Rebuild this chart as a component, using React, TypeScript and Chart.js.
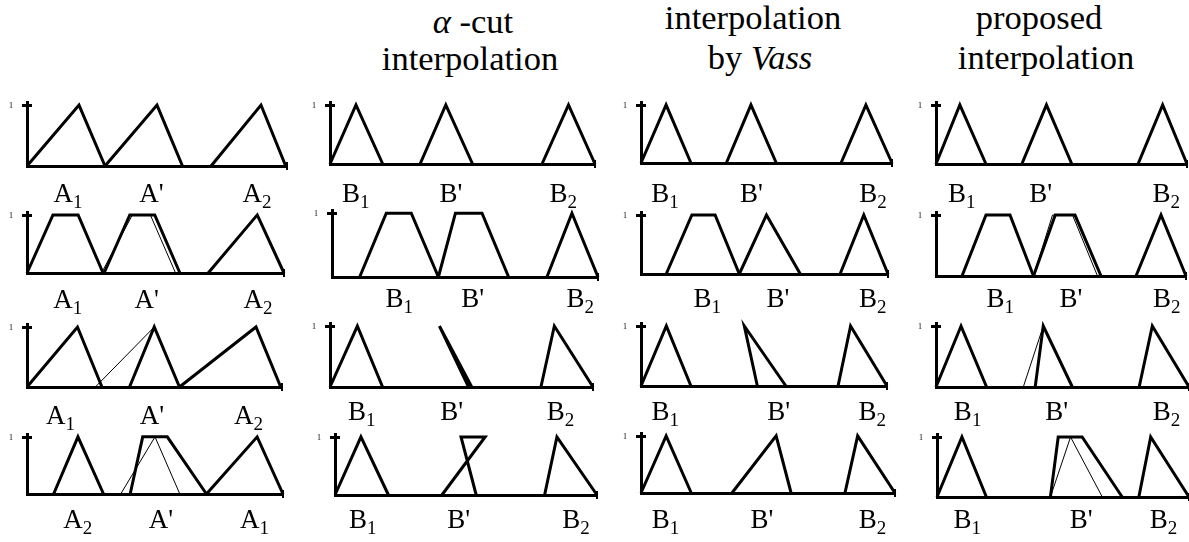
import React, { useEffect, useRef } from "react";
import { Chart, registerables } from "chart.js";

Chart.register(...registerables);

// ---------------- DATA ----------------
// Membership-function breakpoints on an x axis running 0..10 (membership 0..1).
// 2 values: rising edge (x at μ=0, x at μ=1); 3 values: triangle; 4 values: trapezoid.

// Column 1 — observations / antecedents A1, A', A2
const IN1 = [[0, 2.0, 3.0], [3.0, 5.0, 5.98], [7.08, 9.0, 9.95]];
const IN1_THIN: number[][] = [];
const IN1_LBL = [["A", "1", 1.58], ["A'", "", 4.79], ["A", "2", 8.85]];
const IN2 = [[0, 1.01, 1.99, 2.96], [3.0, 4.0, 4.97, 5.95], [7.05, 8.96, 10]];
const IN2_THIN = [[2.9, 4.1, 4.8, 5.78]];
const IN2_LBL = [["A", "1", 1.59], ["A'", "", 4.66], ["A", "2", 8.99]];
const IN3 = [[0, 1.98, 2.94], [4.02, 4.99, 5.98], [5.98, 8.98, 9.95]];
const IN3_THIN = [[2.68, 4.99]];
const IN3_LBL = [["A", "1", 1.31], ["A'", "", 4.9], ["A", "2", 8.69]];
const IN4 = [[1.04, 1.99, 2.99], [4.03, 4.52, 5.48, 7.01], [7.01, 8.99, 10]];
const IN4_THIN = [[3.66, 5.0, 5.97]];
const IN4_LBL = [["A", "2", 1.98], ["A'", "", 5.23], ["A", "1", 8.89]];

// Column 2 — α-cut interpolation
const AC1 = [[0, 0.98, 1.99], [3.4, 4.37, 5.38], [8.0, 9.0, 10]];
const AC1_LBL = [["B", "1", 0.97], ["B'", "", 4.56], ["B", "2", 8.8]];
const AC2 = [[1.04, 2.04, 2.98, 4.0], [4.0, 4.64, 5.64, 6.64], [8.08, 9.02, 10]];
const AC2_LBL = [["B", "1", 2.53], ["B'", "", 5.29], ["B", "2", 9.33]];
const AC3 = [[0, 1.04, 2.0], [5.27, 4.16, 5.39], [8.02, 8.53, 10]];
const AC3_LBL = [["B", "1", 1.21], ["B'", "", 4.63], ["B", "2", 8.76]];
const AC4 = [[0, 0.99, 2.04], [4.08, 5.73, 4.81, 5.39], [8.0, 8.47, 10]];
const AC4_LBL = [["B", "1", 1.06], ["B'", "", 4.72], ["B", "2", 9.2]];

// Column 3 — interpolation by Vass
const VS1 = [[0, 1.0, 1.99], [3.4, 4.38, 5.39], [7.97, 8.96, 10]];
const VS1_LBL = [["B", "1", 0.96], ["B'", "", 4.4], ["B", "2", 9.24]];
const VS2 = [[1.02, 2.06, 3.0, 3.98], [3.98, 5.08, 6.45], [8.06, 9.02, 10]];
const VS2_LBL = [["B", "1", 2.68], ["B'", "", 5.54], ["B", "2", 9.38]];
const VS3 = [[0, 1.03, 2.03], [4.73, 4.2, 5.89], [8.01, 8.52, 10]];
const VS3_LBL = [["B", "1", 0.99], ["B'", "", 5.6], ["B", "2", 9.4]];
const VS4 = [[0, 0.99, 1.98], [3.58, 5.32, 5.91], [8.03, 8.53, 10]];
const VS4_LBL = [["B", "1", 0.96], ["B'", "", 4.76], ["B", "2", 9.11]];

// Column 4 — proposed interpolation
const PR1 = [[0, 0.95, 1.99], [3.42, 4.4, 5.41], [8.05, 9.03, 10]];
const PR1_LBL = [["B", "1", 1.03], ["B'", "", 4.17], ["B", "2", 9.17]];
const PR2 = [[1.04, 2.0, 2.96, 3.9], [3.9, 4.77, 5.56, 6.6], [8.0, 9.0, 10]];
const PR2_THIN = [[3.9, 4.66, 5.46, 6.46]];
const PR2_LBL = [["B", "1", 2.57], ["B'", "", 5.4], ["B", "2", 9.23]];
const PR3 = [[0, 0.99, 2.0], [3.92, 4.24, 5.39], [8.03, 8.55, 10]];
const PR3_THIN = [[3.45, 4.24]];
const PR3_LBL = [["B", "1", 1.25], ["B'", "", 4.77], ["B", "2", 9.11]];
const PR4 = [[0, 0.99, 1.96], [4.5, 4.81, 5.76, 7.35], [8.01, 8.48, 10]];
const PR4_THIN = [[4.5, 5.3, 6.56]];
const PR4_LBL = [["B", "1", 1.2], ["B'", "", 5.72], ["B", "2", 8.99]];

const Y_TICK_LABEL = "1";

// Column titles
const TITLE_AC = ["α", " -cut", "interpolation"];
const TITLE_VS = ["interpolation", "by ", "Vass"];
const TITLE_PR = ["proposed", "interpolation"];

// ---------------- LAYOUT (pixels) ----------------
// [axisX, peakY, baselineY, rightX, labelBaselineY]
const LAYOUT: number[][][] = [
  [[27, 105, 166, 287, 202], [27, 215, 273, 284, 308], [27, 327, 387, 282, 424], [27, 437, 494, 283, 528]],
  [[330, 105, 164, 595, 202], [332, 213, 277, 598, 307], [330, 326, 387, 593, 420], [335, 437, 495, 597, 528]],
  [[641, 105, 163, 892, 202], [641, 215, 274, 888, 307], [641, 326, 386, 887, 420], [641, 436, 493, 895, 528]],
  [[936, 105, 164, 1187, 202], [936, 215, 276, 1186, 307], [936, 326, 387, 1189, 420], [937, 437, 497, 1189, 528]],
];

const SERIF = '"Liberation Serif"';
const MAIN_FONT = `27px ${SERIF}`;
const SUB_FONT = `19px ${SERIF}`;
const TITLE_SIZE = 34.5;

function toPoints(xs: number[]) {
  if (xs.length === 2) return [{ x: xs[0], y: 0 }, { x: xs[1], y: 1 }];
  if (xs.length === 3) return [{ x: xs[0], y: 0 }, { x: xs[1], y: 1 }, { x: xs[2], y: 0 }];
  return [{ x: xs[0], y: 0 }, { x: xs[1], y: 1 }, { x: xs[2], y: 1 }, { x: xs[3], y: 0 }];
}

const decorPlugin = {
  id: "decor",
  afterDraw(chart: any, _args: any, opts: any) {
    const { ctx, scales } = chart;
    const xs = scales.x;
    const ys = scales.y;
    const x0 = xs.getPixelForValue(0);
    const x10 = xs.getPixelForValue(10);
    const y0 = ys.getPixelForValue(0);
    const y1 = ys.getPixelForValue(1);
    ctx.save();
    ctx.fillStyle = "#000";
    // arrow cross-bar at top of membership axis
    ctx.fillRect(Math.round(x0) - 5, Math.round(y1) - 1, 10, 3);
    // end mark of the x axis
    ctx.fillRect(Math.round(x10) - 1, Math.round(y0) - 4, 2, 8);
    // "1" tick label
    ctx.font = `8px ${SERIF}`;
    ctx.textAlign = "center";
    ctx.textBaseline = "alphabetic";
    ctx.fillText(Y_TICK_LABEL, x0 - 16, y1 + 3);
    // set names
    ctx.textAlign = "left";
    for (const lab of opts.labels) {
      const main = lab[0] as string;
      const sub = lab[1] as string;
      const xv = lab[2] as number;
      ctx.font = MAIN_FONT;
      const wm = ctx.measureText(main).width;
      ctx.font = SUB_FONT;
      const ws = sub ? ctx.measureText(sub).width : 0;
      const cx = xs.getPixelForValue(xv);
      const left = cx - (wm + ws) / 2;
      ctx.font = MAIN_FONT;
      ctx.fillText(main, left, opts.labelY);
      if (sub) {
        ctx.font = SUB_FONT;
        ctx.fillText(sub, left + wm, opts.labelY + 6);
      }
    }
    ctx.restore();
  },
};

const PAD_L = 24;
const PAD_R = 6;
const PAD_T = 6;
const Y_MAX = 1.05;

type PanelProps = { thick: number[][]; thin: number[][]; labels: any[]; layout: number[] };

function Panel({ thick, thin, labels, layout }: PanelProps) {
  const ref = useRef<HTMLCanvasElement>(null);
  const [axisX, peakY, baseY, rightX, labelY] = layout;
  const chartH = Math.round((baseY - peakY) * Y_MAX);
  const chartTop = baseY - chartH;
  const padB = labelY - baseY + 14;
  const width = PAD_L + (rightX - axisX) + PAD_R;
  const height = PAD_T + chartH + padB;
  const left = axisX - PAD_L;
  const top = chartTop - PAD_T;

  useEffect(() => {
    const canvas = ref.current;
    if (!canvas) return;
    const mk = (xs: number[], w: number) => ({
      data: toPoints(xs),
      showLine: true,
      borderColor: "#000",
      backgroundColor: "#000",
      borderWidth: w,
      pointRadius: 0,
      pointHoverRadius: 0,
      fill: false,
      tension: 0,
      clip: false as any,
    });
    const datasets = [...thin.map((s) => mk(s, 1)), ...thick.map((s) => mk(s, 3))];
    const hiddenScale = (max: number, horizontal: boolean) => ({
      type: "linear" as const,
      min: 0,
      max,
      grid: { display: false, drawTicks: false, drawOnChartArea: false, tickLength: 0 },
      ticks: { display: false },
      border: { display: true, width: 3, color: "#000" },
      title: { display: false },
      afterFit(s: any) {
        if (horizontal) s.height = 0;
        else s.width = 0;
      },
    });
    let chart: Chart | null = null;
    chart = new Chart(canvas, {
      type: "scatter",
      data: { datasets },
      options: {
        animation: false,
        responsive: false,
        maintainAspectRatio: false,
        devicePixelRatio: 1,
        events: [],
        layout: { padding: { left: PAD_L, right: PAD_R, top: PAD_T, bottom: padB } },
        plugins: {
          legend: { display: false },
          tooltip: { enabled: false },
          decor: { labels, labelY: labelY - top },
        } as any,
        scales: {
          x: hiddenScale(10, true),
          y: hiddenScale(Y_MAX, false),
        } as any,
      },
      plugins: [decorPlugin],
    });
    let cancelled = false;
    const fonts = (document as any).fonts;
    if (fonts && fonts.load) {
      Promise.all([fonts.load(MAIN_FONT, "AB'12"), fonts.load(SUB_FONT, "12")]).then(() => {
        if (!cancelled && chart) chart.update();
      });
    }
    return () => {
      cancelled = true;
      if (chart) chart.destroy();
    };
  }, []);

  return (
    <canvas
      ref={ref}
      width={width}
      height={height}
      style={{ position: "absolute", left, top, width, height }}
    />
  );
}

function TitleLine({ cx, baseline, children }: { cx: number; baseline: number; children: React.ReactNode }) {
  return (
    <div
      style={{
        position: "absolute",
        left: cx - 160,
        width: 320,
        top: baseline - TITLE_SIZE * 0.8,
        textAlign: "center",
        fontFamily: SERIF,
        fontSize: TITLE_SIZE,
        lineHeight: `${TITLE_SIZE}px`,
        whiteSpace: "pre",
        color: "#000",
      }}
    >
      {children}
    </div>
  );
}

const COLUMNS = [
  [
    { thick: IN1, thin: IN1_THIN, labels: IN1_LBL },
    { thick: IN2, thin: IN2_THIN, labels: IN2_LBL },
    { thick: IN3, thin: IN3_THIN, labels: IN3_LBL },
    { thick: IN4, thin: IN4_THIN, labels: IN4_LBL },
  ],
  [
    { thick: AC1, thin: [], labels: AC1_LBL },
    { thick: AC2, thin: [], labels: AC2_LBL },
    { thick: AC3, thin: [], labels: AC3_LBL },
    { thick: AC4, thin: [], labels: AC4_LBL },
  ],
  [
    { thick: VS1, thin: [], labels: VS1_LBL },
    { thick: VS2, thin: [], labels: VS2_LBL },
    { thick: VS3, thin: [], labels: VS3_LBL },
    { thick: VS4, thin: [], labels: VS4_LBL },
  ],
  [
    { thick: PR1, thin: [], labels: PR1_LBL },
    { thick: PR2, thin: PR2_THIN, labels: PR2_LBL },
    { thick: PR3, thin: PR3_THIN, labels: PR3_LBL },
    { thick: PR4, thin: PR4_THIN, labels: PR4_LBL },
  ],
];

export default function App() {
  return (
    <div
      style={{
        position: "absolute",
        left: 0,
        top: 0,
        width: 1189,
        height: 542,
        overflow: "hidden",
        background: "#fff",
        fontFamily: SERIF,
      }}
    >
      <TitleLine cx={473} baseline={32}>
        <span style={{ fontStyle: "italic" }}>{TITLE_AC[0]}</span>
        {TITLE_AC[1]}
      </TitleLine>
      <TitleLine cx={470} baseline={69}>{TITLE_AC[2]}</TitleLine>
      <TitleLine cx={753} baseline={28}>{TITLE_VS[0]}</TitleLine>
      <TitleLine cx={760} baseline={68}>
        {TITLE_VS[1]}
        <span style={{ fontStyle: "italic" }}>{TITLE_VS[2]}</span>
      </TitleLine>
      <TitleLine cx={1039} baseline={28}>{TITLE_PR[0]}</TitleLine>
      <TitleLine cx={1046} baseline={68}>{TITLE_PR[1]}</TitleLine>
      {COLUMNS.map((col, c) =>
        col.map((p, r) => (
          <Panel key={`${c}-${r}`} thick={p.thick} thin={p.thin} labels={p.labels} layout={LAYOUT[c][r]} />
        ))
      )}
    </div>
  );
}
